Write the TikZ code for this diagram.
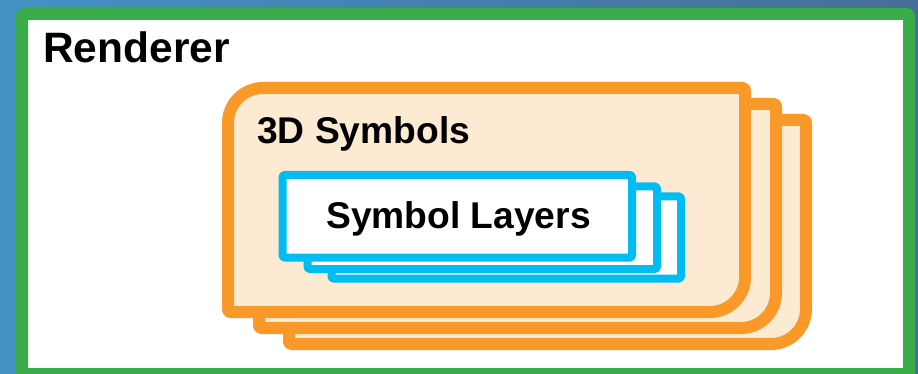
\documentclass[tikz,border=0pt]{standalone}
\usepackage{fontspec}
\setmainfont{Liberation Sans}
\definecolor{bgL}{HTML}{4392C3}
\definecolor{bgR}{HTML}{466E97}
\definecolor{frameG}{HTML}{39AB48}
\definecolor{cardO}{HTML}{F8992A}
\definecolor{cardFill}{HTML}{FDEAD3}
\definecolor{layerB}{HTML}{00BCF2}
\newcommand\ocard[2]{%
  \draw[ocardstyle] ({#1+35},#2) -- ({#1+517-1.5},#2)
    arc[start angle=270,end angle=360,radius=1.5]
    -- ({#1+517},{#2+224-35}) arc[start angle=0,end angle=90,radius=35]
    -- ({#1+1.5},{#2+224}) arc[start angle=90,end angle=180,radius=1.5]
    -- (#1,{#2+35}) arc[start angle=180,end angle=270,radius=35] -- cycle;}
\begin{document}
\begin{tikzpicture}[x=1pt,y=-1pt,
  ocardstyle/.style={draw=cardO,fill=cardFill,line width=12pt,line join=round},
  layerbox/.style={draw=layerB,fill=white,line width=8pt,line join=round,rounded corners=1.5pt},
  lbl/.style={anchor=base west,inner sep=0pt,font=\bfseries}]
\useasboundingbox (0,0) rectangle (918,374);
\begin{scope}
  \clip (0,0) rectangle (918,374);
  \shade[left color=bgL,right color=bgR] (0,0) rectangle (918,374);
  \draw[draw=frameG,fill=white,line width=12pt,line join=round,rounded corners=1pt] (22,14) rectangle (909,374);
\end{scope}
\node[lbl,font=\bfseries\fontsize{42.5}{49}\selectfont] (renderer) at (43,62.5) {Renderer};
\ocard{289}{120}
\ocard{259}{104}
\ocard{228}{88}
\node[lbl,font=\bfseries\fontsize{37.2}{43}\selectfont] (symbols) at (257,143.5) {3D Symbols};
\draw[layerbox] (331.5,196.5) rectangle (681,278.5);
\draw[layerbox] (307.5,186.5) rectangle (657,269);
\draw[layerbox] (282.5,175) rectangle (632,257.5);
\node[lbl,font=\bfseries\fontsize{37.2}{43}\selectfont] (layers) at (326,228.5) {Symbol Layers};
\end{tikzpicture}
\end{document}
